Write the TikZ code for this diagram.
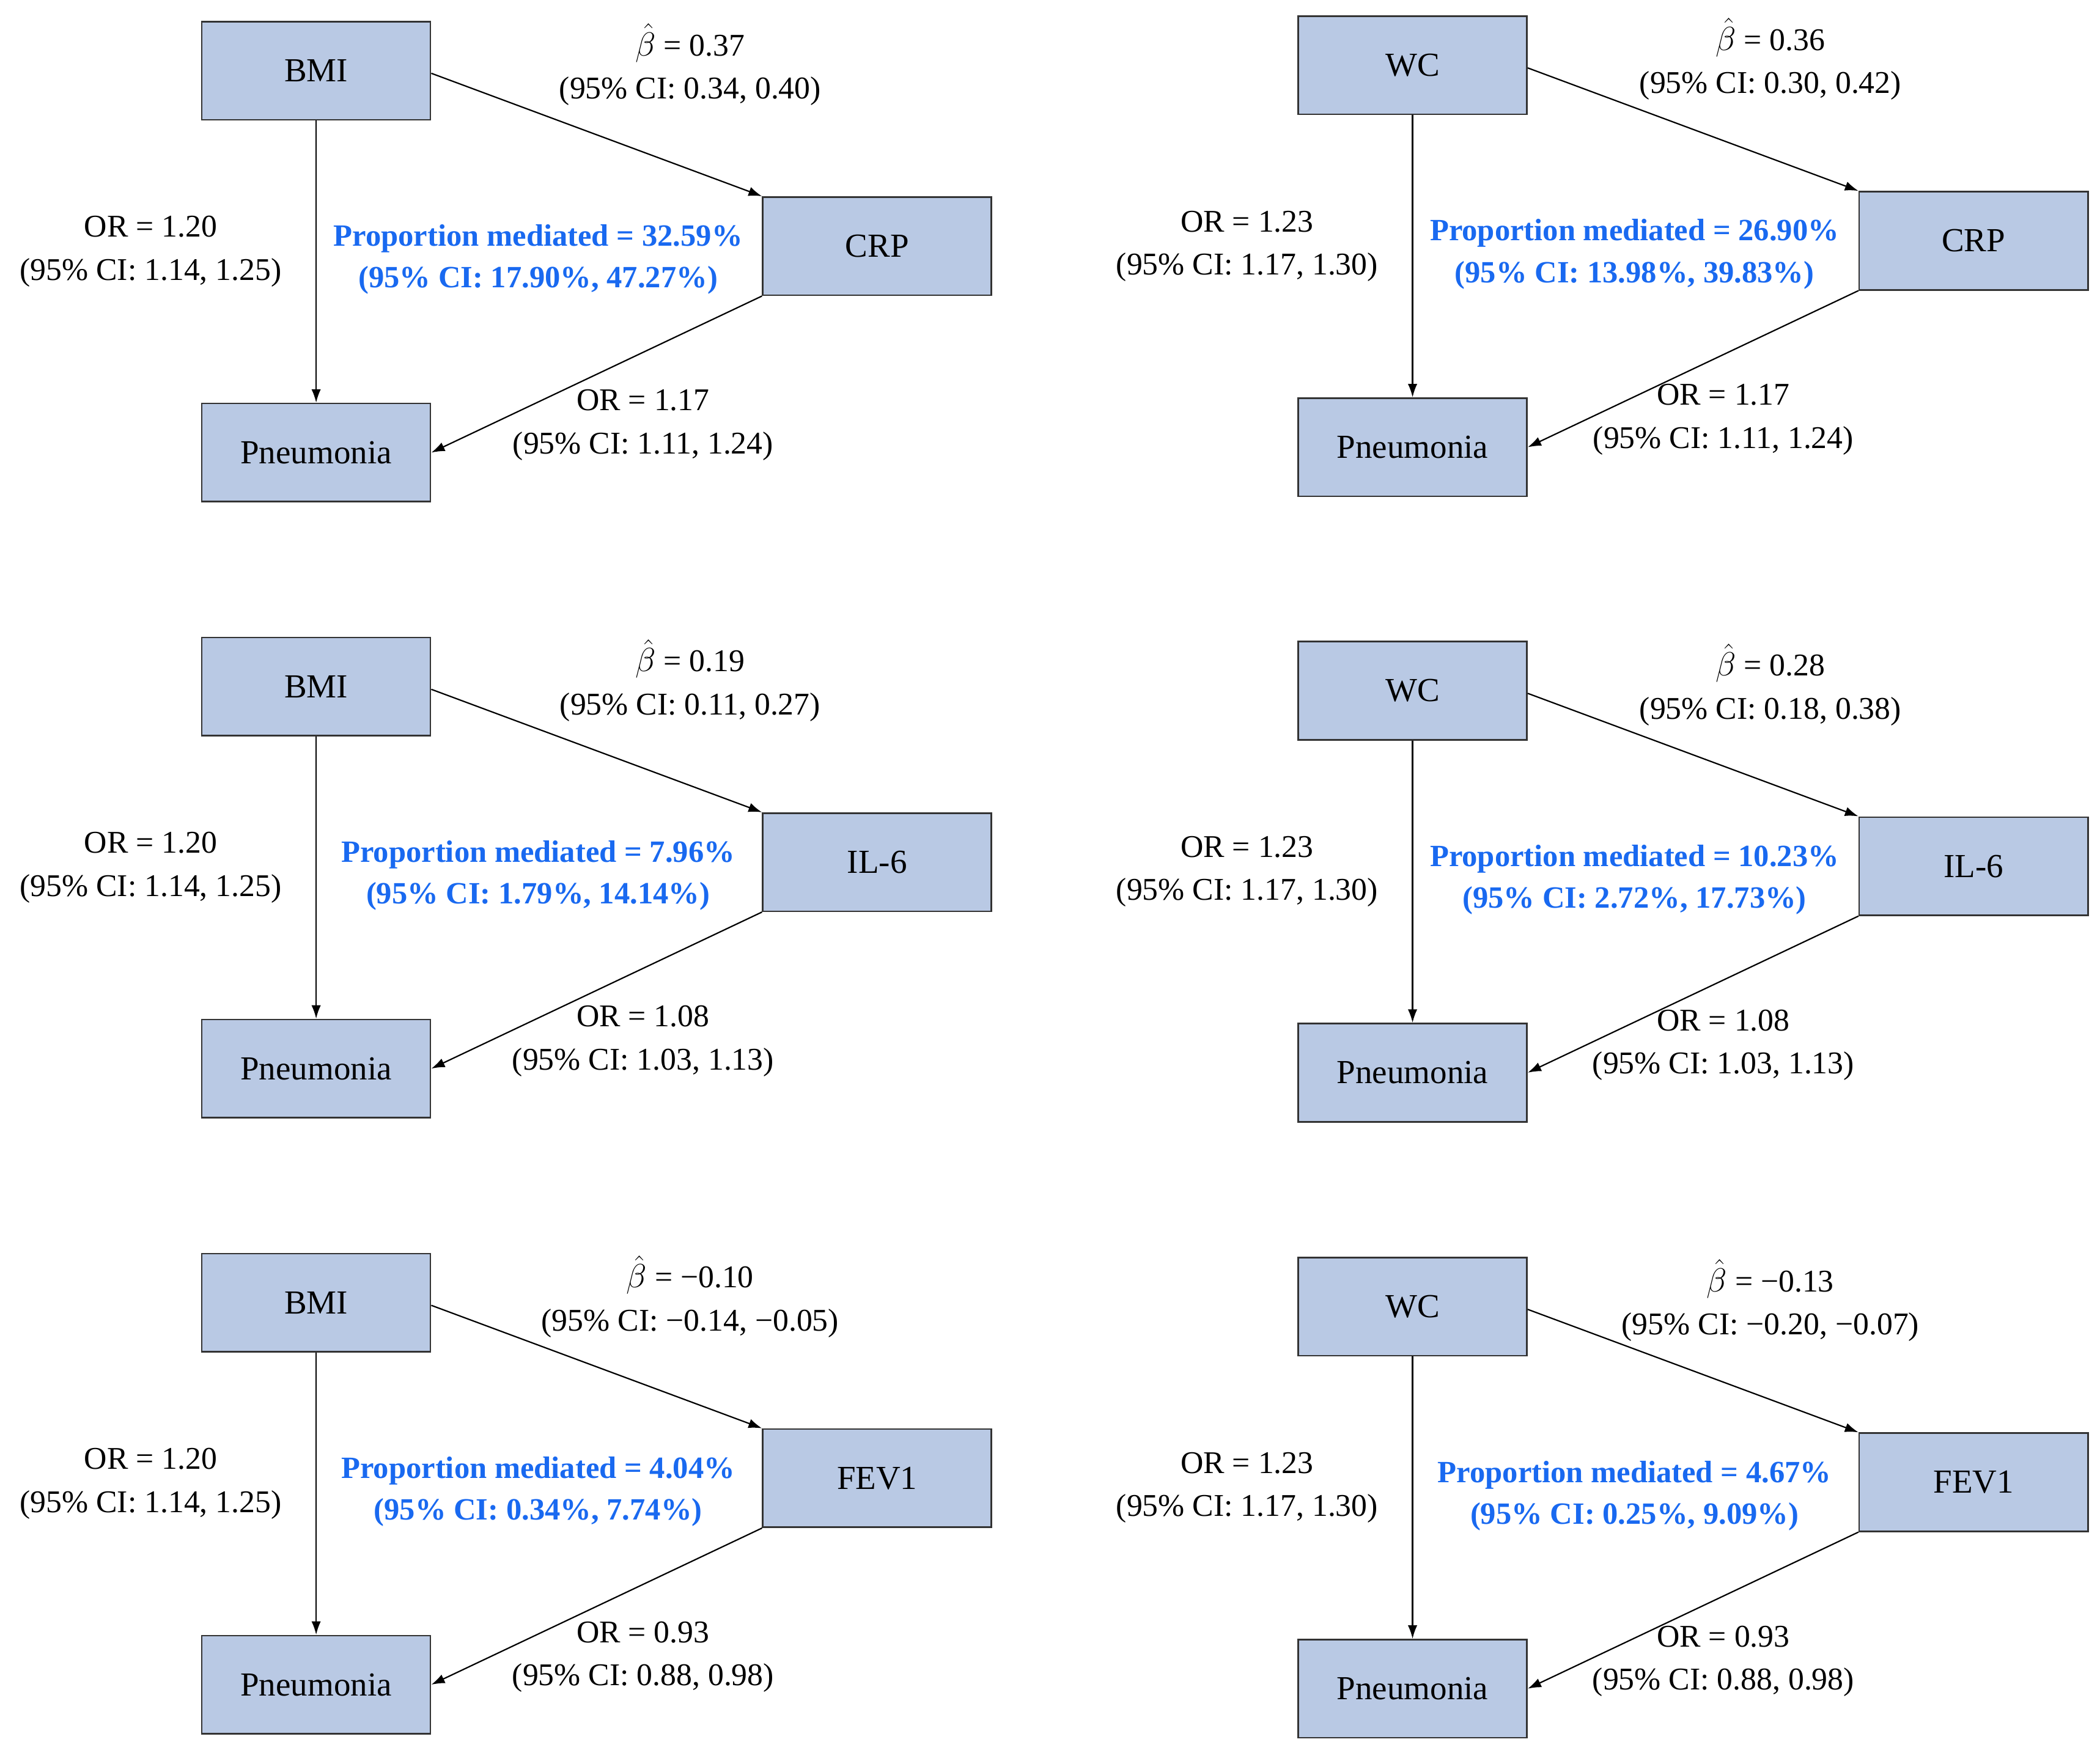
\documentclass[tikz,border=0pt]{standalone}
\usepackage{fontspec}
\setmainfont{Liberation Serif}
\usetikzlibrary{arrows.meta}
\definecolor{boxfill}{RGB}{185,201,228}
\definecolor{pmblue}{RGB}{25,105,240}
\tikzset{
  box/.style={draw=black!80,line width=1.2pt,fill=boxfill,minimum width=170pt,minimum height=73pt,inner sep=0pt,font=\fontsize{25}{28}\selectfont},
  lab/.style={align=center,font=\fontsize{23.5}{32}\selectfont,inner sep=0pt},
  pm/.style={align=center,font=\fontsize{23}{31}\selectfont\bfseries,text=pmblue,inner sep=0pt},
  arr/.style={line width=1pt,-{Latex[length=10pt,width=7pt]}}
}
% #1 shift, #2 exposure, #3 mediator, #4 beta, #5 OR1, #6 PM, #7 OR2, #8 dx for right labels
\newcommand{\mypanel}[8]{%
\begin{scope}[shift={#1}]
  \node[box] (e) at (235,-52.5) {#2};
  \node[box] (m) at (652,-183) {#3};
  \node[box] (p) at (235,-336.5) {Pneumonia};
  \draw[arr] (e.east) ++(0,-2) -- (m.north west);
  \draw[arr] (e.south) -- (p.north);
  \draw[arr] (m.south west) -- (p.east);
  \node[lab] at (513+#8,-48) {#4};
  \node[lab] at (112,-187) {#5};
  \node[pm] at (400,-193) {#6};
  \node[lab] at (478+#8,-316) {#7};
\end{scope}}
\begin{document}
\begin{tikzpicture}[x=1pt,y=1pt]
\useasboundingbox (0,0) rectangle (1561,-1303);
\mypanel{(0,0)}{BMI}{CRP}{$\hat{\beta}$ = 0.37\\(95\% CI: 0.34, 0.40)}{OR = 1.20\\(95\% CI: 1.14, 1.25)}{Proportion mediated = 32.59\%\\(95\% CI: 17.90\%, 47.27\%)}{OR = 1.17\\(95\% CI: 1.11, 1.24)}{0}
\mypanel{(0,-458)}{BMI}{IL-6}{$\hat{\beta}$ = 0.19\\(95\% CI: 0.11, 0.27)}{OR = 1.20\\(95\% CI: 1.14, 1.25)}{Proportion mediated = 7.96\%\\(95\% CI: 1.79\%, 14.14\%)}{OR = 1.08\\(95\% CI: 1.03, 1.13)}{0}
\mypanel{(0,-916)}{BMI}{FEV1}{$\hat{\beta}$ = −0.10\\(95\% CI: −0.14, −0.05)}{OR = 1.20\\(95\% CI: 1.14, 1.25)}{Proportion mediated = 4.04\%\\(95\% CI: 0.34\%, 7.74\%)}{OR = 0.93\\(95\% CI: 0.88, 0.98)}{0}
\mypanel{(815,4)}{WC}{CRP}{$\hat{\beta}$ = 0.36\\(95\% CI: 0.30, 0.42)}{OR = 1.23\\(95\% CI: 1.17, 1.30)}{Proportion mediated = 26.90\%\\(95\% CI: 13.98\%, 39.83\%)}{OR = 1.17\\(95\% CI: 1.11, 1.24)}{-12}
\mypanel{(815,-461)}{WC}{IL-6}{$\hat{\beta}$ = 0.28\\(95\% CI: 0.18, 0.38)}{OR = 1.23\\(95\% CI: 1.17, 1.30)}{Proportion mediated = 10.23\%\\(95\% CI: 2.72\%, 17.73\%)}{OR = 1.08\\(95\% CI: 1.03, 1.13)}{-12}
\mypanel{(815,-919)}{WC}{FEV1}{$\hat{\beta}$ = −0.13\\(95\% CI: −0.20, −0.07)}{OR = 1.23\\(95\% CI: 1.17, 1.30)}{Proportion mediated = 4.67\%\\(95\% CI: 0.25\%, 9.09\%)}{OR = 0.93\\(95\% CI: 0.88, 0.98)}{-12}
\end{tikzpicture}
\end{document}
